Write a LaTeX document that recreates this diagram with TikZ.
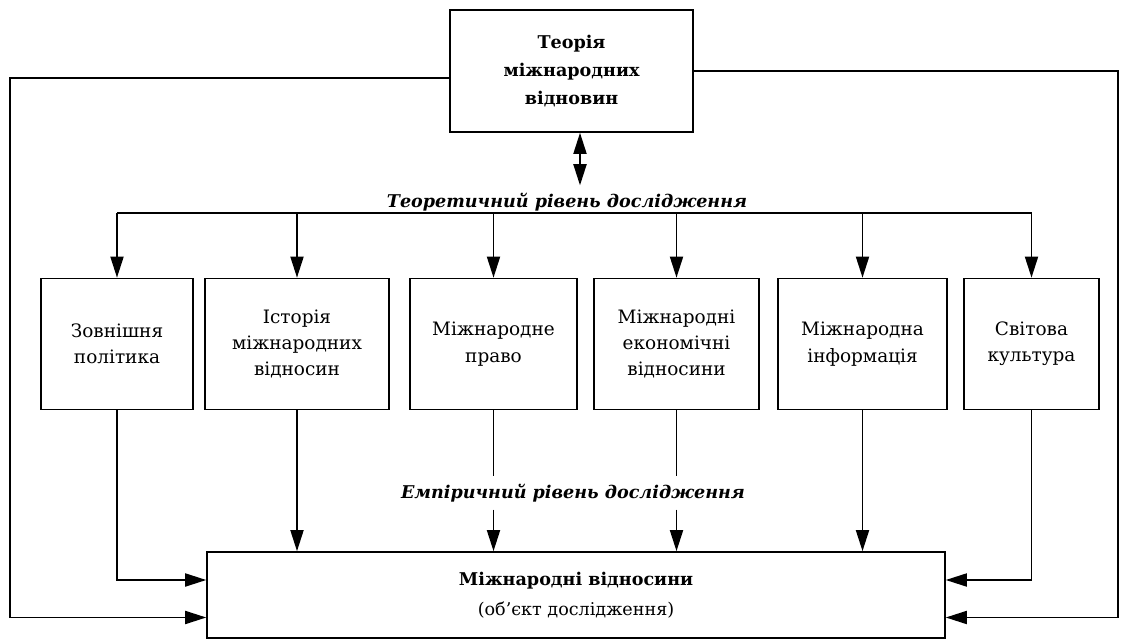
\documentclass[tikz,border=0pt]{standalone}
\usepackage{fontspec}
\setmainfont{DejaVu Serif}
\usetikzlibrary{arrows.meta}

\begin{document}
\begin{tikzpicture}[x=0.02cm, y=-0.02cm, line width=0.8pt,
		box/.style={draw, line width=1pt, align=center, minimum height=2.62cm, font=\fontsize{10.5}{15}\selectfont},
		tip/.style={-{Triangle[length=12pt, width=7.5pt]}},
		tips/.style={{Triangle[length=12pt, width=7.5pt]}-{Triangle[length=12pt, width=7.5pt]}},
		level/.style={font=\fontsize{10}{12}\selectfont\bfseries\itshape, inner sep=4pt}]
	\useasboundingbox (0,0) rectangle (1122,641);
	
	\node [box, minimum width=4.86cm, minimum height=2.44cm, font=\fontsize{10}{16}\selectfont\bfseries] (teor) at (571.5,71) {Теорія\\ міжнародних\\ відновин};
	
	\node [box, minimum width=3.04cm] (zp) at (117,344) {Зовнішня\\ політика};
	\node [box, minimum width=3.68cm] (im) at (297,344) {Історія\\ міжнародних\\ відносин};
	\node [box, minimum width=3.34cm] (mp) at (493.5,344) {Міжнародне\\ право};
	\node [box, minimum width=3.30cm] (me) at (676.5,344) {Міжнародні\\ економічні\\ відносини};
	\node [box, minimum width=3.38cm] (mi) at (862.5,344) {Міжнародна\\ інформація};
	\node [box, minimum width=2.70cm] (sk) at (1031.5,344) {Світова\\ культура};
	
	\node [box, minimum width=14.76cm, minimum height=1.72cm, font=\fontsize{10}{17}\selectfont] (mv) at (576,595) {\textbf{Міжнародні відносини}\\ (об’єкт дослідження)};
	
	\node [level] (tr) at (567,202) {Теоретичний рівень дослідження};
	\node [level] (er) at (573,493) {Емпіричний рівень дослідження};
	
	\coordinate (bus) at (0,213);
	\coordinate (lc) at (10,0);
	\coordinate (rc) at (1118,0);
	
	% theoretical level
	\draw [tips] ([xshift=0.17cm]teor.south) -- ([xshift=0.17cm]teor.south |- tr.north);
	\draw (zp.north |- bus) -- (sk.north |- bus);
	\foreach \b in {zp,im,mp,me,mi,sk}
		\draw [tip] (\b.north |- bus) -- (\b.north);
	
	% empirical level
	\draw [tip] (im.south) -- (im.south |- mv.north);
	\draw [tip] (mi.south) -- (mi.south |- mv.north);
	\foreach \b in {mp,me}{
		\draw (\b.south) -- (\b.south |- er.north);
		\draw [tip] (\b.south |- er.south) -- (\b.south |- mv.north);}
	\draw [tip] (zp.south) |- ([yshift=0.3cm]mv.west);
	\draw [tip] (sk.south) |- ([yshift=0.3cm]mv.east);
	
	% outer loops
	\draw [tip] ([yshift=-0.14cm]teor.west) -- ([yshift=-0.14cm]teor.west -| lc) |- ([yshift=-0.45cm]mv.west);
	\draw [tip] (teor.east) -- (teor.east -| rc) |- ([yshift=-0.45cm]mv.east);
\end{tikzpicture}
\end{document}
